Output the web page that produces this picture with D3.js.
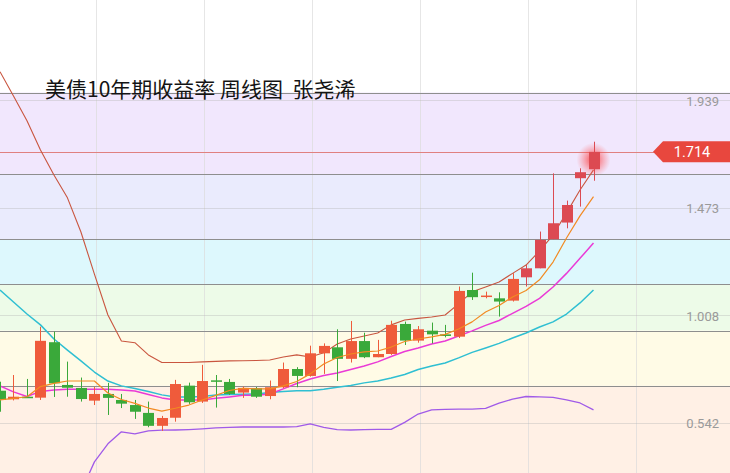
<!DOCTYPE html>
<html><head><meta charset="utf-8">
<script src="https://cdn.jsdelivr.net/npm/d3@7"></script>
<style>html,body{margin:0;padding:0;background:#fff;}svg{display:block;}</style>
</head><body>
<svg id="chart" width="730" height="473"></svg>
<script>
// ---- data (weekly candles, US 10Y yield) ----
const weeks = d3.range(45);
const opens  = [0.680,0.643,0.654,0.650,0.890,0.705,0.692,0.637,0.666,0.640,0.618,0.584,0.528,0.563,0.702,0.633,0.725,0.718,0.672,0.691,0.657,0.695,0.774,0.744,0.842,0.868,0.818,0.895,0.825,0.839,0.969,0.897,0.940,0.924,0.914,1.116,1.089,1.080,1.070,1.171,1.210,1.336,1.408,1.600,1.639];
const highs  = [0.719,0.748,0.731,0.957,0.936,0.806,0.737,0.696,0.714,0.666,0.640,0.633,0.571,0.727,0.715,0.792,0.748,0.731,0.698,0.696,0.724,0.802,0.782,0.875,0.885,0.946,0.982,0.931,0.900,0.983,0.979,0.960,0.975,0.965,1.131,1.191,1.109,1.106,1.189,1.224,1.369,1.621,1.503,1.643,1.758];
const lows   = [0.589,0.638,0.649,0.640,0.653,0.654,0.633,0.618,0.575,0.605,0.558,0.522,0.506,0.546,0.623,0.627,0.607,0.662,0.649,0.649,0.643,0.691,0.695,0.741,0.753,0.722,0.802,0.821,0.825,0.835,0.878,0.888,0.885,0.911,0.908,1.073,1.080,1.001,1.066,1.131,1.210,1.336,1.383,1.477,1.589];
const closes = [0.640,0.654,0.651,0.896,0.712,0.693,0.644,0.666,0.649,0.624,0.589,0.528,0.562,0.709,0.630,0.722,0.721,0.666,0.692,0.654,0.695,0.774,0.744,0.842,0.874,0.818,0.895,0.825,0.839,0.965,0.897,0.946,0.924,0.917,1.112,1.085,1.092,1.066,1.164,1.210,1.333,1.405,1.484,1.626,1.714];

// indicator lines
const upperBand = [2.061,1.956,1.849,1.722,1.614,1.515,1.367,1.185,1.008,0.895,0.888,0.835,0.802,0.802,0.802,0.805,0.807,0.809,0.810,0.811,0.813,0.826,0.835,0.826,0.844,0.882,0.904,0.917,0.930,0.965,0.986,0.993,0.999,1.008,1.056,1.108,1.129,1.151,1.188,1.224,1.285,1.354,1.450,1.549,1.636];
const maOrange  = [0.640,0.647,0.654,0.698,0.712,0.722,0.722,0.722,0.670,0.642,0.625,0.605,0.592,0.604,0.618,0.640,0.660,0.681,0.690,0.688,0.688,0.701,0.720,0.753,0.796,0.824,0.839,0.848,0.852,0.869,0.893,0.904,0.913,0.924,0.947,0.978,1.021,1.049,1.086,1.114,1.160,1.237,1.341,1.437,1.520];
const maMagenta = [0.701,0.675,0.655,0.677,0.683,0.686,0.686,0.686,0.686,0.683,0.679,0.664,0.649,0.640,0.640,0.640,0.647,0.653,0.660,0.660,0.666,0.688,0.711,0.731,0.746,0.757,0.772,0.787,0.805,0.828,0.850,0.865,0.882,0.895,0.917,0.939,0.963,0.984,1.015,1.045,1.080,1.129,1.188,1.253,1.320];
const maCyan    = [1.116,1.064,1.012,0.965,0.904,0.856,0.809,0.761,0.722,0.701,0.690,0.677,0.662,0.653,0.653,0.655,0.662,0.664,0.665,0.666,0.672,0.677,0.680,0.680,0.686,0.695,0.703,0.714,0.722,0.735,0.750,0.772,0.787,0.800,0.822,0.846,0.865,0.885,0.908,0.930,0.956,0.978,1.012,1.060,1.116];
const lowerBand = [null,null,null,null,null,null,0.242,0.372,0.450,0.502,0.493,0.506,0.509,0.510,0.512,0.515,0.519,0.521,0.523,0.523,0.523,0.523,0.525,0.536,0.521,0.512,0.510,0.512,0.513,0.513,0.543,0.579,0.597,0.599,0.600,0.600,0.604,0.626,0.644,0.655,0.653,0.651,0.640,0.627,0.597];

// level lines and band fills
const levels = [1.971,1.617,1.336,1.142,0.940,0.701];
const bandColors = ["#f1e7fd","#eaebfd","#ddf8fd","#edfbe8","#fffbe6","#fff0e5"];
const tickValues = [0.542,1.008,1.473,1.939];
const lastPrice = 1.714;
const title = "美债10年期收益率 周线图  张尧浠";

// ---- drawing ----
const W = 730, H = 473;
const svg = d3.select("#chart");
const x = d3.scaleLinear().domain([0, 44]).range([0, 593.5]);
const y = d3.scaleLinear().domain([0.542, 1.939]).range([422.6, 99.9]);

const defs = svg.append("defs");
const glow = defs.append("radialGradient").attr("id","glow");
glow.append("stop").attr("offset","0%").attr("stop-color","#ff2a2a").attr("stop-opacity",0.85);
glow.append("stop").attr("offset","45%").attr("stop-color","#ff3b3b").attr("stop-opacity",0.45);
glow.append("stop").attr("offset","100%").attr("stop-color","#ff5a5a").attr("stop-opacity",0);

// bands
const bandEdges = levels.concat([y.invert(H + 5)]);
svg.append("rect").attr("x",0).attr("y",0).attr("width",W).attr("height",H).attr("fill","#fff");
svg.selectAll("rect.band").data(bandColors).join("rect").attr("class","band")
  .attr("x",0).attr("width",W)
  .attr("y",(d,i)=>y(bandEdges[i]))
  .attr("height",(d,i)=>y(bandEdges[i+1]) - y(bandEdges[i]))
  .attr("fill",d=>d);

// vertical faint grid
svg.selectAll("line.vg").data(d3.range(0,6)).join("line").attr("class","vg")
  .attr("x1",d=>96.5 + d*108).attr("x2",d=>96.5 + d*108)
  .attr("y1",0).attr("y2",H).attr("stroke","#dcdcdc").attr("stroke-width",1).attr("opacity",0.7);

// horizontal tick gridlines
svg.selectAll("line.hg").data(tickValues).join("line").attr("class","hg")
  .attr("x1",0).attr("x2",W).attr("y1",d=>Math.round(y(d))+0.5).attr("y2",d=>Math.round(y(d))+0.5)
  .attr("stroke","#b8b8b8").attr("stroke-width",1).attr("opacity",0.4);

// level lines
svg.selectAll("line.lv").data(levels).join("line").attr("class","lv")
  .attr("x1",0).attr("x2",W).attr("y1",d=>Math.round(y(d))+0.5).attr("y2",d=>Math.round(y(d))+0.5)
  .attr("stroke","#8e8e8e").attr("stroke-width",1);

// last price line
svg.append("line").attr("x1",0).attr("x2",655)
  .attr("y1",Math.round(y(lastPrice))+0.5).attr("y2",Math.round(y(lastPrice))+0.5)
  .attr("stroke","#e08080").attr("stroke-width",1);

// title
svg.append("text").attr("x",45).attr("y",97)
  .attr("font-family","'Noto Sans CJK SC','Noto Sans',sans-serif").attr("font-size",21)
  .style("white-space","pre").attr("xml:space","preserve")
  .attr("fill","#141414").text(title);

// indicator lines
function drawLine(vals, color, width){
  const line = d3.line().defined(d=>d!=null).x((d,i)=>x(i)).y(d=>y(d)).curve(d3.curveLinear);
  svg.append("path").datum(vals).attr("d",line).attr("fill","none")
    .attr("stroke",color).attr("stroke-width",width).attr("stroke-linejoin","round");
}
drawLine(lowerBand, "#a05ae8", 1.3);
drawLine(maCyan, "#2fbfd2", 1.5);
drawLine(maMagenta, "#ea3ad6", 1.5);
drawLine(upperBand, "#c9553f", 1.1);

// glow on last candle
svg.append("circle").attr("cx",x(44)).attr("cy",y(1.68)).attr("r",17).attr("fill","url(#glow)");

// candles
const candles = weeks.map(i=>({i, o:opens[i], h:highs[i], l:lows[i], c:closes[i]}));
const upColor = d=> d.c >= 1.2 ? "#dc4a52" : "#ef5b3b";
const downColor = "#3aa93a";
const col = d=> d.c >= d.o ? upColor(d) : downColor;
const g = svg.append("g");
g.selectAll("line.wick").data(candles).join("line").attr("class","wick")
  .attr("x1",d=>Math.round(x(d.i))+0.5).attr("x2",d=>Math.round(x(d.i))+0.5)
  .attr("y1",d=>y(d.h)).attr("y2",d=>y(d.l)).attr("stroke",col).attr("stroke-width",1);
g.selectAll("rect.body").data(candles).join("rect").attr("class","body")
  .attr("x",d=>Math.round(x(d.i))-5).attr("width",11)
  .attr("y",d=>y(Math.max(d.o,d.c)))
  .attr("height",d=>Math.max(1.5, Math.abs(y(d.o)-y(d.c))))
  .attr("fill",col);

drawLine(maOrange, "#f28a22", 1.2);

// y axis labels
const axis = d3.axisLeft(y).tickValues(tickValues).tickSize(0).tickPadding(0).tickFormat(d3.format(".3f"));
const ax = svg.append("g").attr("transform","translate(719,1)").call(axis);
ax.select(".domain").remove();
ax.selectAll("text").attr("fill","#9a9a9a").attr("font-size",13)
  .attr("font-family","Roboto, 'Noto Sans', sans-serif");

// price tag
const ty = y(lastPrice);
svg.append("path")
  .attr("d",`M653,${ty} L663,${ty-10.5} L730,${ty-10.5} L730,${ty+10.5} L663,${ty+10.5} Z`)
  .attr("fill","#e8473e");
svg.append("text").attr("x",692).attr("y",ty).attr("dy","0.36em").attr("text-anchor","middle")
  .attr("fill","#fff").attr("font-size",14.5).attr("font-family","Roboto, 'Noto Sans', sans-serif")
  .text(d3.format(".3f")(lastPrice));
</script>
</body></html>
